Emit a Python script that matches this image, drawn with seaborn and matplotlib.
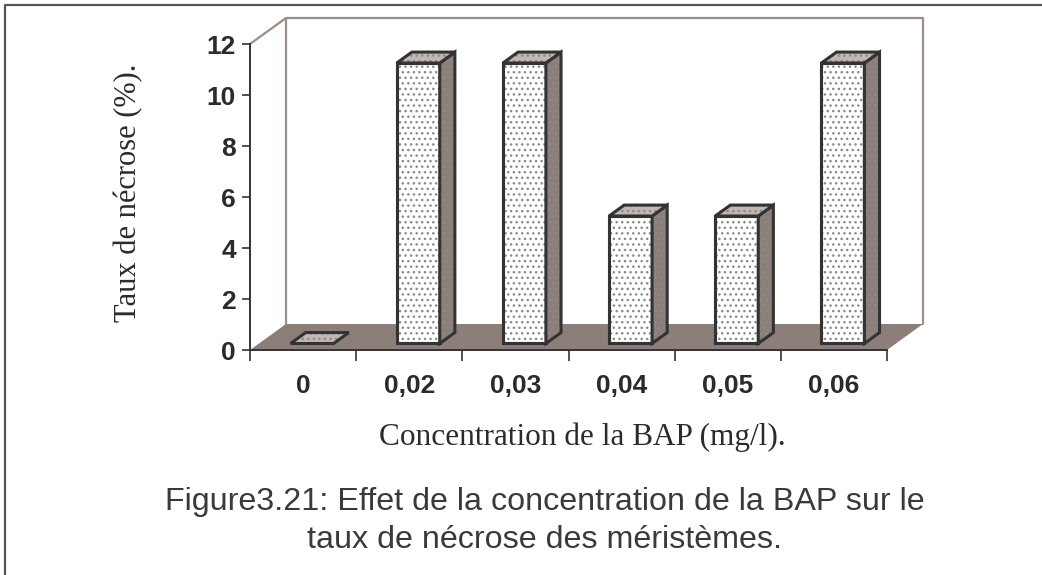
import numpy as np
import matplotlib
matplotlib.use("Agg")
import matplotlib.pyplot as plt
import seaborn as sns
from matplotlib.patches import Polygon
from matplotlib.lines import Line2D

# ---- data ----
concentrations = ["0", "0,02", "0,03", "0,04", "0,05", "0,06"]
necrose = [0, 11, 11, 5, 5, 11]
yticks = [0, 2, 4, 6, 8, 10, 12]
ylabel = "Taux de nécrose (%)."
xlabel = "Concentration de la BAP (mg/l)."
caption = "Figure3.21: Effet de la concentration de la BAP sur le\ntaux de nécrose des méristèmes."

# ---- style ----
sns.set_style("white")
plt.rcParams["font.family"] = ["Liberation Sans", "DejaVu Sans"]
plt.rcParams["hatch.linewidth"] = 1.0
EDGE = "#333333"
DOT = "#8a8a8a"
FLOOR = "#8c7f7a"
SIDE = "#8c7f7a"
TOP = "#c2b8b3"
WALL = "#9c8f8a"
TXT = "#2b2b2b"

W, H = 1042, 575
fig = plt.figure(figsize=(W / 100, H / 100), dpi=100)

# depth vector of the floor (data units) and bar geometry
DX, DY = 0.339, 1.02
FRAC_FRONT, FRAC_DEPTH = 0.25, 0.42
FDX, FDY = FRAC_FRONT * DX, FRAC_FRONT * DY
BDX, BDY = FRAC_DEPTH * DX, FRAC_DEPTH * DY

ax = fig.add_axes([250 / W, 225 / H, 673 / W, 332 / H])
ax.patch.set_visible(False)

sns.barplot(x=concentrations, y=necrose, color="white", saturation=1,
            width=0.405, edgecolor=EDGE, linewidth=2.2, ax=ax, zorder=4)

ax.set_xlim(-0.5, 5.5 + DX)
ax.set_ylim(0, 12 + DY)

n = len(concentrations)
# floor
ax.add_patch(Polygon([(-0.5, 0), (n - 0.5, 0), (n - 0.5 + DX, DY), (-0.5 + DX, DY)],
                     closed=True, facecolor=FLOOR, edgecolor="none", zorder=1.5, clip_on=False))
# back wall outline
ax.add_line(Line2D([-0.5 + DX, -0.5 + DX, n - 0.5 + DX, n - 0.5 + DX],
                   [DY, 12 + DY, 12 + DY, DY], color=WALL, lw=1.6, zorder=1, clip_on=False))
ax.add_line(Line2D([-0.5, -0.5 + DX], [12, 12 + DY], color=WALL, lw=1.6, zorder=1, clip_on=False))


def face(pts, fc, z):
    ax.add_patch(Polygon(pts, closed=True, facecolor=fc, edgecolor="none", zorder=z, clip_on=False))
    ax.add_patch(Polygon(pts, closed=True, fill=False, hatch="...", edgecolor=DOT, lw=0,
                         zorder=z + 0.01, clip_on=False))
    ax.add_patch(Polygon(pts, closed=True, fill=False, edgecolor=EDGE, lw=2.2,
                         joinstyle="miter", zorder=z + 0.02, clip_on=False))


for i, p in enumerate(list(ax.patches)):
    if not hasattr(p, "get_width") or p.get_facecolor()[:3] != (1.0, 1.0, 1.0):
        continue
    x0 = p.get_x() + FDX
    y0 = FDY
    w = p.get_width()
    h = p.get_height()
    p.set_x(x0)
    p.set_y(y0)
    p.set_clip_on(False)
    z = 4 + i * 0.1
    p.set_zorder(z)
    if h > 0:
        ax.add_patch(Polygon([(x0, y0), (x0 + w, y0), (x0 + w, y0 + h), (x0, y0 + h)], closed=True,
                             fill=False, hatch="...", edgecolor=DOT, lw=0, zorder=z + 0.01))
        ax.add_patch(Polygon([(x0, y0), (x0 + w, y0), (x0 + w, y0 + h), (x0, y0 + h)], closed=True,
                             fill=False, edgecolor=EDGE, lw=2.2, joinstyle="miter", zorder=z + 0.02))
        face([(x0 + w, y0), (x0 + w + BDX, y0 + BDY), (x0 + w + BDX, y0 + h + BDY), (x0 + w, y0 + h)],
             SIDE, z + 0.03)
    face([(x0, y0 + h), (x0 + w, y0 + h), (x0 + w + BDX, y0 + h + BDY), (x0 + BDX, y0 + h + BDY)],
         TOP, z + 0.06)

# axes / ticks
for s in ["top", "right"]:
    ax.spines[s].set_visible(False)
for s in ["left", "bottom"]:
    ax.spines[s].set_color(EDGE)
    ax.spines[s].set_linewidth(1.4)
    ax.spines[s].set_zorder(2.5)
ax.spines["left"].set_bounds(0, 12)
ax.spines["bottom"].set_bounds(-0.5, n - 0.5)

ax.set_yticks(yticks)
ax.set_yticklabels([str(v) for v in yticks], fontsize=19, fontweight="bold", color=TXT)
ax.tick_params(axis="y", length=6, width=1.2, color=EDGE, pad=4, direction="out", left=True)

ax.set_xticks(range(n))
ax.set_xticklabels(concentrations, fontsize=19, fontweight="bold", color=TXT)
ax.set_xticks(np.arange(-0.5, n, 1.0), minor=True)
ax.tick_params(axis="x", which="major", length=0, pad=17, bottom=True)
ax.tick_params(axis="x", which="minor", length=8, width=1.2, color=EDGE, direction="out", bottom=True)
ax.set_xlabel("")
ax.set_ylabel("")

fig.text(129 / W, 1 - 193 / H, ylabel, rotation=90, ha="center", va="center",
         fontsize=22, family=["Liberation Serif", "DejaVu Serif"], color=TXT)
fig.text(582 / W, 1 - 437 / H, xlabel, ha="center", va="center",
         fontsize=22.5, family=["Liberation Serif", "DejaVu Serif"], color=TXT)
fig.text(545 / W, 1 - 521 / H, caption, ha="center", va="center", linespacing=1.38,
         fontsize=23.2, color="#3a3a3a")

# figure border (top and left)
fig.add_artist(Line2D([5 / W, 5 / W, 1], [0, 1 - 5 / H, 1 - 5 / H], transform=fig.transFigure,
                      color="#555555", lw=1.6))

fig.savefig("out.png", dpi=100, facecolor="white")
